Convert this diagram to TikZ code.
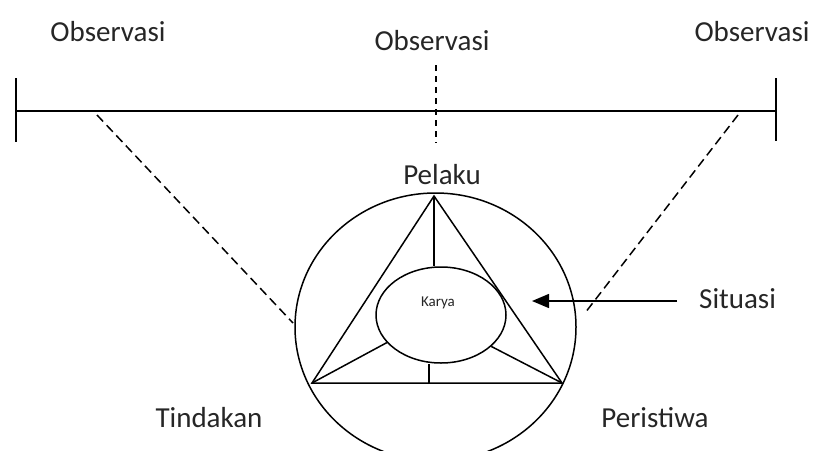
\documentclass[tikz,border=0pt]{standalone}
\usepackage{fontspec}
\setmainfont{Carlito}
\usetikzlibrary{shapes.geometric, arrows.meta, positioning}

\begin{document}
\begin{tikzpicture}[
    x=1pt, y=-1pt,
    teks/.style={inner sep=0pt, anchor=base, text=black!85, font=\fontsize{29}{34}\selectfont},
    garis/.style={line width=1.5pt},
    putus/.style={line width=1.5pt, dash pattern=on 9pt off 5pt},
    bulat/.style={ellipse, draw, line width=1.5pt, inner sep=0pt}
]
    \useasboundingbox (0,0) rectangle (813,450);
    \clip (0,0) rectangle (813,450);

    % Observasi
    \node[teks] (obs_kiri) at (108,41) {Observasi};
    \node[teks] (obs_tengah) at (432,50) {Observasi};
    \node[teks] (obs_kanan) at (752,41) {Observasi};

    % Garis observasi
    \coordinate (garis_kiri) at (16,111);
    \coordinate (garis_kanan) at (776,111);
    \draw[garis] (garis_kiri) -- (garis_kanan);
    \draw[garis] (16,78) -- (16,142);
    \draw[garis] (776,78) -- (776,141);
    \coordinate (tengah_atas) at (436,65);
    \coordinate (tengah_bawah) at (436,143);
    \draw[line width=1.5pt, dash pattern=on 6pt off 5pt] (tengah_atas) -- (tengah_bawah);

    % Lingkaran situasi dan segitiga
    \node[bulat, minimum width=281pt, minimum height=268pt] (lingkaran) at (435.5,327) {};
    \coordinate (puncak) at (434,196);
    \coordinate (kiri_bawah) at (312,383);
    \coordinate (kanan_bawah) at (562,383);
    \draw[garis] (puncak) -- (kiri_bawah) -- (kanan_bawah) -- cycle;

    % Karya
    \node[bulat, minimum width=130pt, minimum height=96pt] (karya) at (441,315) {};
    \node[inner sep=0pt, text=black!85, font=\fontsize{15}{18}\selectfont] (karya_label) at (438,303) {Karya};
    \coordinate (alas_tengah) at (429,384);
    \draw[garis] (puncak) -- (puncak |- karya.north);
    \draw[garis] (alas_tengah) -- (alas_tengah |- karya.south);
    \draw[garis] (karya.207) -- (kiri_bawah);
    \draw[garis] (karya.328) -- (kanan_bawah);

    % Garis putus-putus
    \coordinate (putus_kiri) at (97,115);
    \coordinate (putus_kiri_ujung) at (293,323);
    \coordinate (putus_kanan) at (738,115);
    \coordinate (putus_kanan_ujung) at (585,313);
    \draw[putus] (putus_kiri) -- (putus_kiri_ujung);
    \draw[putus] (putus_kanan) -- (putus_kanan_ujung);

    % Label
    \node[teks] (pelaku) at (442,184) {Pelaku};
    \node[teks] (tindakan) at (209,427) {Tindakan};
    \node[teks] (peristiwa) at (655,427) {Peristiwa};
    \node[teks, anchor=base west] (situasi) at (699,308) {Situasi};

    % Panah situasi
    \coordinate (situasi_ekor) at (677,301);
    \coordinate (situasi_ujung) at (532,301);
    \draw[garis, -{Triangle[length=17pt, width=14pt]}] (situasi_ekor) -- (situasi_ujung);

\end{tikzpicture}
\end{document}
